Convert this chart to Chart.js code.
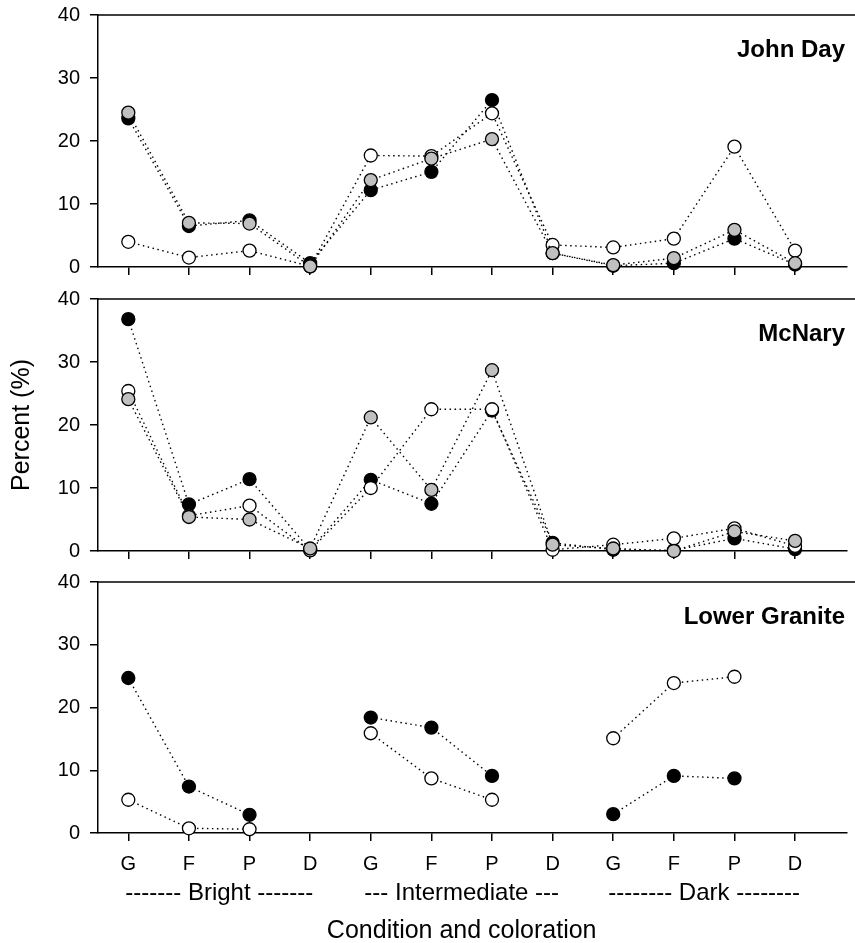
<!DOCTYPE html>
<html>
<head>
<meta charset="utf-8">
<script src="https://cdn.jsdelivr.net/npm/chart.js@4.4.1/dist/chart.umd.min.js"></script>
<style>
  html, body { margin: 0; padding: 0; background: #fff; }
  #wrap { position: relative; width: 855px; height: 943px; }
  #wrap canvas { position: absolute; left: 0; }
</style>
</head>
<body>
<div id="wrap">
  <canvas id="johnDay" width="855" height="290" style="top:0px"></canvas>
  <canvas id="mcNary" width="855" height="290" style="top:284px"></canvas>
  <canvas id="lowerGranite" width="855" height="376" style="top:567px"></canvas>
</div>
<script>
// condition codes along the x axis, grouped by coloration
const categories = ["G", "F", "P", "D", "G", "F", "P", "D", "G", "F", "P", "D"];
const groupLabels = ["------- Bright -------", "--- Intermediate ---", "-------- Dark --------"];
const yTicks = [0, 10, 20, 30, 40];

// John Day
const johnDayBlack = [23.6, 6.5, 7.4, 0.6, 12.2, 15.1, 26.5, 2.2, 0.2, 0.6, 4.5, 0.4];
const johnDayWhite = [4.0, 1.5, 2.6, 0.1, 17.7, 17.6, 24.4, 3.5, 3.1, 4.5, 19.1, 2.6];
const johnDayGray  = [24.5, 7.0, 6.9, 0.1, 13.8, 17.2, 20.3, 2.2, 0.3, 1.4, 5.9, 0.6];

// McNary
const mcNaryBlack = [36.8, 7.4, 11.4, 0.2, 11.3, 7.5, 22.3, 1.3, 0.2, 0.1, 2.0, 0.3];
const mcNaryWhite = [25.4, 5.6, 7.2, 0.1, 10.0, 22.5, 22.5, 0.2, 1.0, 2.0, 3.6, 0.8];
const mcNaryGray  = [24.1, 5.4, 5.0, 0.4, 21.2, 9.7, 28.7, 1.0, 0.4, 0.0, 3.1, 1.6];

// Lower Granite (no D values)
const lowerGraniteBlack = [24.7, 7.4, 2.9, null, 18.4, 16.8, 9.1, null, 3.0, 9.1, 8.7, null];
const lowerGraniteWhite = [5.3, 0.75, 0.6, null, 15.9, 8.7, 5.3, null, 15.1, 23.9, 24.9, null];

const FONT = "'Liberation Sans', Arial, Helvetica, sans-serif";
Chart.defaults.font.family = FONT;
Chart.defaults.color = "#000";

function toPoints(values) {
  return values.map((v, i) => ({ x: i + 1, y: v }));
}

function series(values, fill, order) {
  return {
    data: toPoints(values),
    borderColor: "#000",
    borderWidth: 1.4,
    borderDash: [1.5, 3.5],
    backgroundColor: fill,
    pointBackgroundColor: fill,
    pointBorderColor: "#000",
    pointBorderWidth: 1.3,
    pointRadius: 6.5,
    pointHoverRadius: 6.5,
    tension: 0,
    spanGaps: false,
    clip: false,
    order: order
  };
}

// top frame line + panel name + extra labels
const panelDecor = {
  id: "panelDecor",
  beforeDatasetsDraw(chart, args, opts) {
    const { ctx, chartArea } = chart;
    ctx.save();
    ctx.strokeStyle = "#000";
    ctx.lineWidth = 1.5;
    ctx.beginPath();
    ctx.moveTo(chartArea.left, chartArea.top);
    ctx.lineTo(chart.width, chartArea.top);
    ctx.stroke();
    ctx.restore();
  },
  afterDraw(chart, args, opts) {
    const { ctx, chartArea } = chart;
    const x = chart.scales.x;
    ctx.save();
    ctx.fillStyle = "#000";
    ctx.font = "bold 24px " + FONT;
    ctx.textAlign = "right";
    ctx.textBaseline = "middle";
    ctx.fillText(opts.name, 845, chartArea.top + 35);

    if (opts.yTitle) {
      ctx.font = "25px " + FONT;
      ctx.textAlign = "center";
      ctx.translate(22, (chartArea.top + chartArea.bottom) / 2);
      ctx.rotate(-Math.PI / 2);
      ctx.fillText(opts.yTitle, 0, 0);
      ctx.setTransform(1, 0, 0, 1, 0, 0);
    }
    if (opts.groups) {
      ctx.font = "24px " + FONT;
      ctx.textAlign = "center";
      opts.groups.forEach((g, i) => {
        ctx.fillText(g, x.getPixelForValue(i * 4 + 2.5), chartArea.bottom + 60);
      });
      ctx.font = "25px " + FONT;
      ctx.fillText(opts.xTitle, x.getPixelForValue(6.5), chartArea.bottom + 98);
    }
    ctx.restore();
  }
};

function makePanel(id, datasets, xHeight, showLabels, decor) {
  return new Chart(document.getElementById(id), {
    type: "line",
    data: { datasets },
    plugins: [panelDecor],
    options: {
      responsive: false,
      animation: false,
      layout: { padding: { top: 15, right: 0, left: 0, bottom: 0 } },
      plugins: {
        legend: { display: false },
        tooltip: { enabled: false },
        panelDecor: decor
      },
      scales: {
        x: {
          type: "linear",
          min: 0.5,
          max: 12.86,
          afterBuildTicks: s => { s.ticks = categories.map((c, i) => ({ value: i + 1 })); },
          afterFit: s => { s.height = xHeight; s.paddingLeft = 0; s.paddingRight = 0; },
          ticks: {
            display: showLabels,
            autoSkip: false,
            maxRotation: 0,
            padding: 11,
            font: { size: 20 },
            callback: v => categories[v - 1]
          },
          grid: { drawOnChartArea: false, drawTicks: true, tickLength: 8, color: "#000", lineWidth: 1.5 },
          border: { display: true, color: "#000", width: 1.5 }
        },
        y: {
          min: 0,
          max: 40,
          afterBuildTicks: s => { s.ticks = yTicks.map(v => ({ value: v })); },
          afterFit: s => { s.width = 98; s.paddingTop = 0; s.paddingBottom = 0; },
          ticks: { padding: 10, font: { size: 20 } },
          grid: { drawOnChartArea: false, drawTicks: true, tickLength: 8, color: "#000", lineWidth: 1.5 },
          border: { display: true, color: "#000", width: 1.5 }
        }
      }
    }
  });
}

makePanel("johnDay", [
  series(johnDayGray, "#c0c0c0", 0),
  series(johnDayWhite, "#ffffff", 1),
  series(johnDayBlack, "#000000", 2)
], 23, false, { name: "John Day" });

makePanel("mcNary", [
  series(mcNaryGray, "#c0c0c0", 0),
  series(mcNaryWhite, "#ffffff", 1),
  series(mcNaryBlack, "#000000", 2)
], 23, false, { name: "McNary", yTitle: "Percent (%)" });

makePanel("lowerGranite", [
  series(lowerGraniteWhite, "#ffffff", 1),
  series(lowerGraniteBlack, "#000000", 2)
], 110, true, { name: "Lower Granite", groups: groupLabels, xTitle: "Condition and coloration" });
</script>
</body>
</html>
